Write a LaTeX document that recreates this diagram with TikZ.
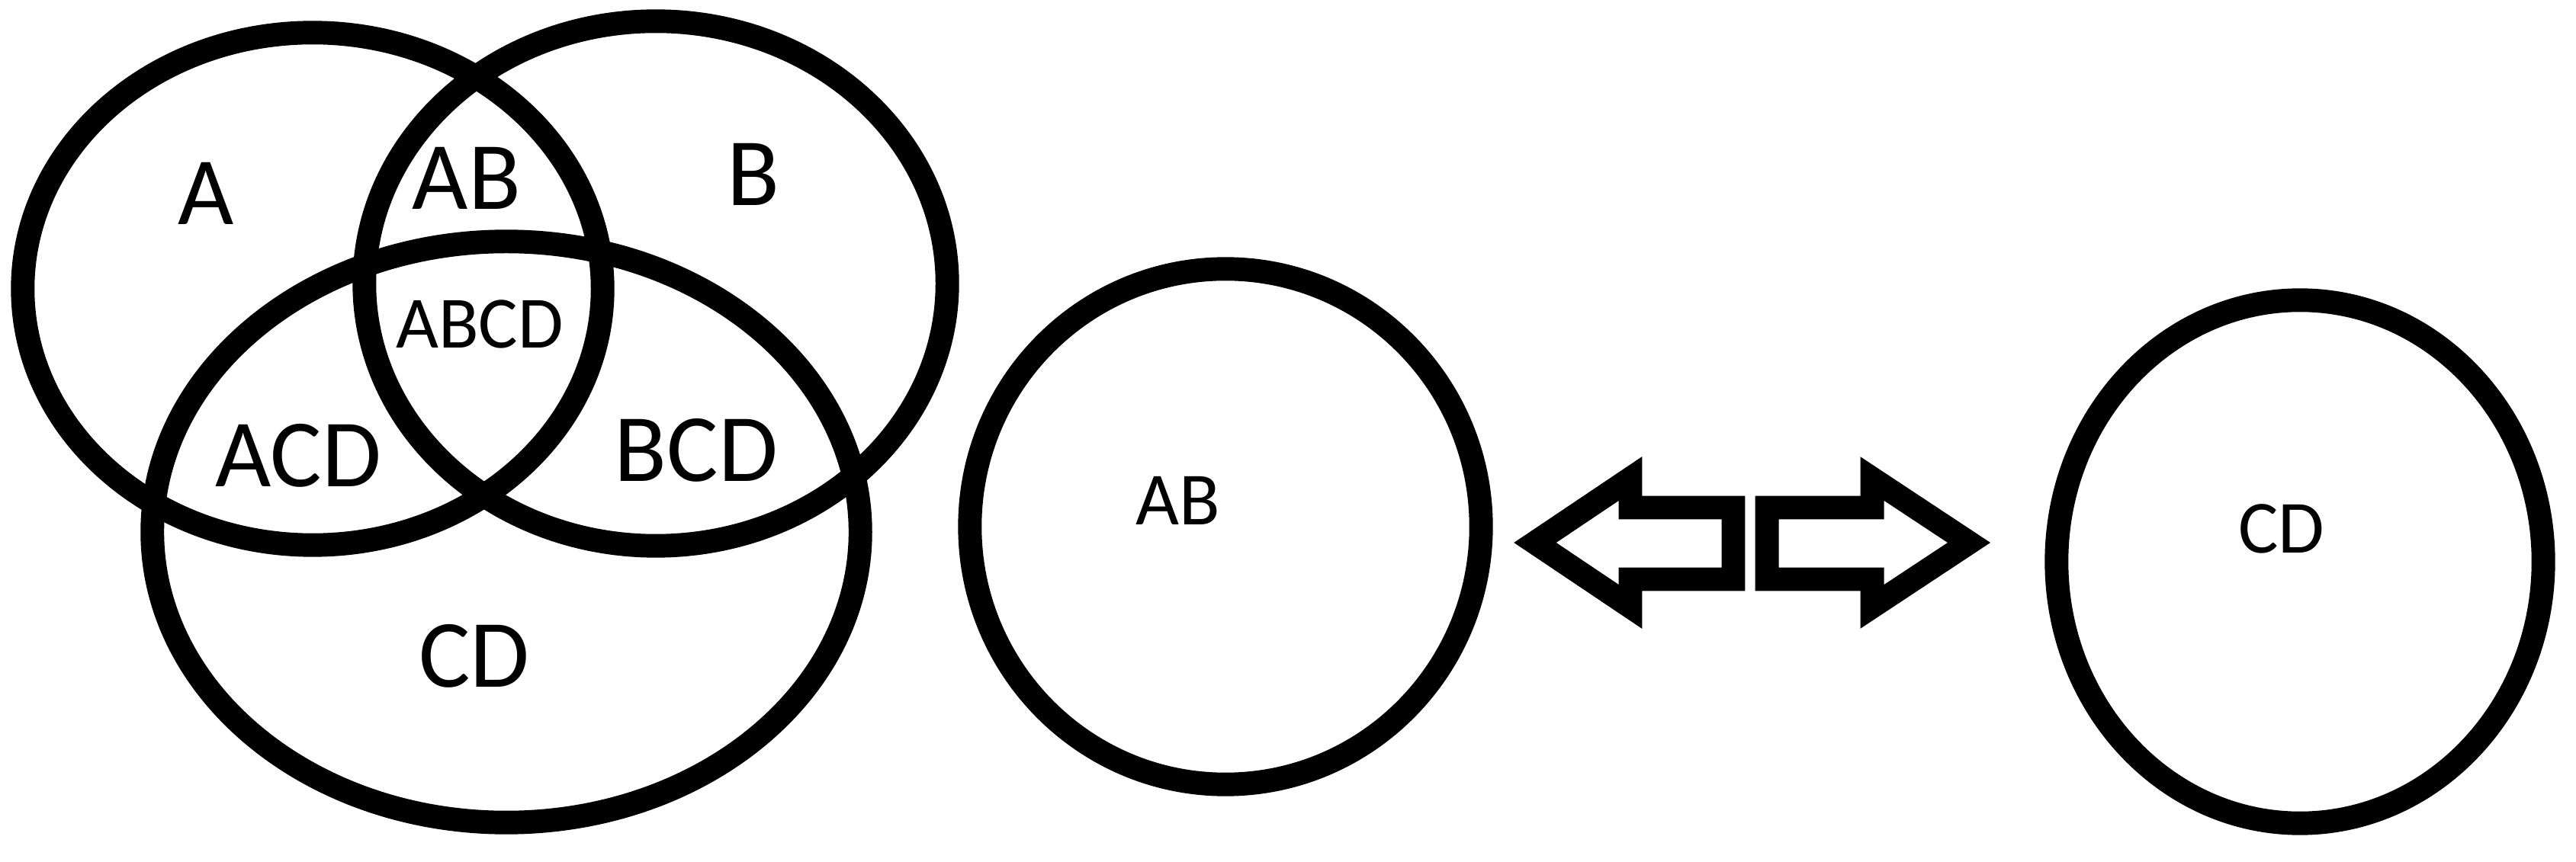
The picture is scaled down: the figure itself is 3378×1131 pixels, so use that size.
\documentclass[tikz,border=0pt]{standalone}
\usepackage{fontspec}
\setmainfont{Carlito}
\usetikzlibrary{shapes, positioning}

\begin{document}
\begin{tikzpicture}[
        x=0.01cm, y=-0.01cm,
        set/.style={ellipse, draw, line width=8.8pt, inner sep=0pt},
        region/.style={inner sep=0pt, font=\fontsize{36}{40}\selectfont},
        small/.style={inner sep=0pt, font=\fontsize{28}{32}\selectfont},
        blockarrow/.style={draw, line width=8.8pt, miter limit=10}
    ]
    \useasboundingbox (0,0) rectangle (3378,1131);

    % three sets
    \node [set, minimum width=7.60cm, minimum height=6.72cm] (setA) at (410,379) {};
    \node [set, minimum width=7.64cm, minimum height=6.88cm] (setB) at (860,372) {};
    \node [set, minimum width=9.28cm, minimum height=7.62cm] (setCD) at (664,698) {};

    \node [region] (lA) at (270,254) {A};
    \node [region] (lAB) at (612,234) {AB};
    \node [region] (lB) at (988,229) {B};
    \node [region, font=\fontsize{27.5}{30}\selectfont] (lABCD) at (629,425) {ABCD};
    \node [region] (lACD) at (391,598) {ACD};
    \node [region] (lBCD) at (913,591) {BCD};
    \node [region] (lCD) at (622,861) {CD};

    % the two groups
    \node [set, minimum width=6.70cm, minimum height=6.76cm] (groupAB) at (1607,691) {};
    \node [set, minimum width=6.38cm, minimum height=6.86cm] (groupCD) at (3016,737) {};
    \node [small] (lgAB) at (1545,657) {AB};
    \node [small] (lgCD) at (2992,694) {CD};

    \draw [blockarrow] (2013,712) -- (2138,628) -- (2138,666) -- (2273,666)
        -- (2273,760) -- (2138,760) -- (2138,796) -- cycle;
    \draw [blockarrow] (2582,712) -- (2455,628) -- (2455,666) -- (2317,666)
        -- (2317,760) -- (2455,760) -- (2455,796) -- cycle;

\end{tikzpicture}
\end{document}
